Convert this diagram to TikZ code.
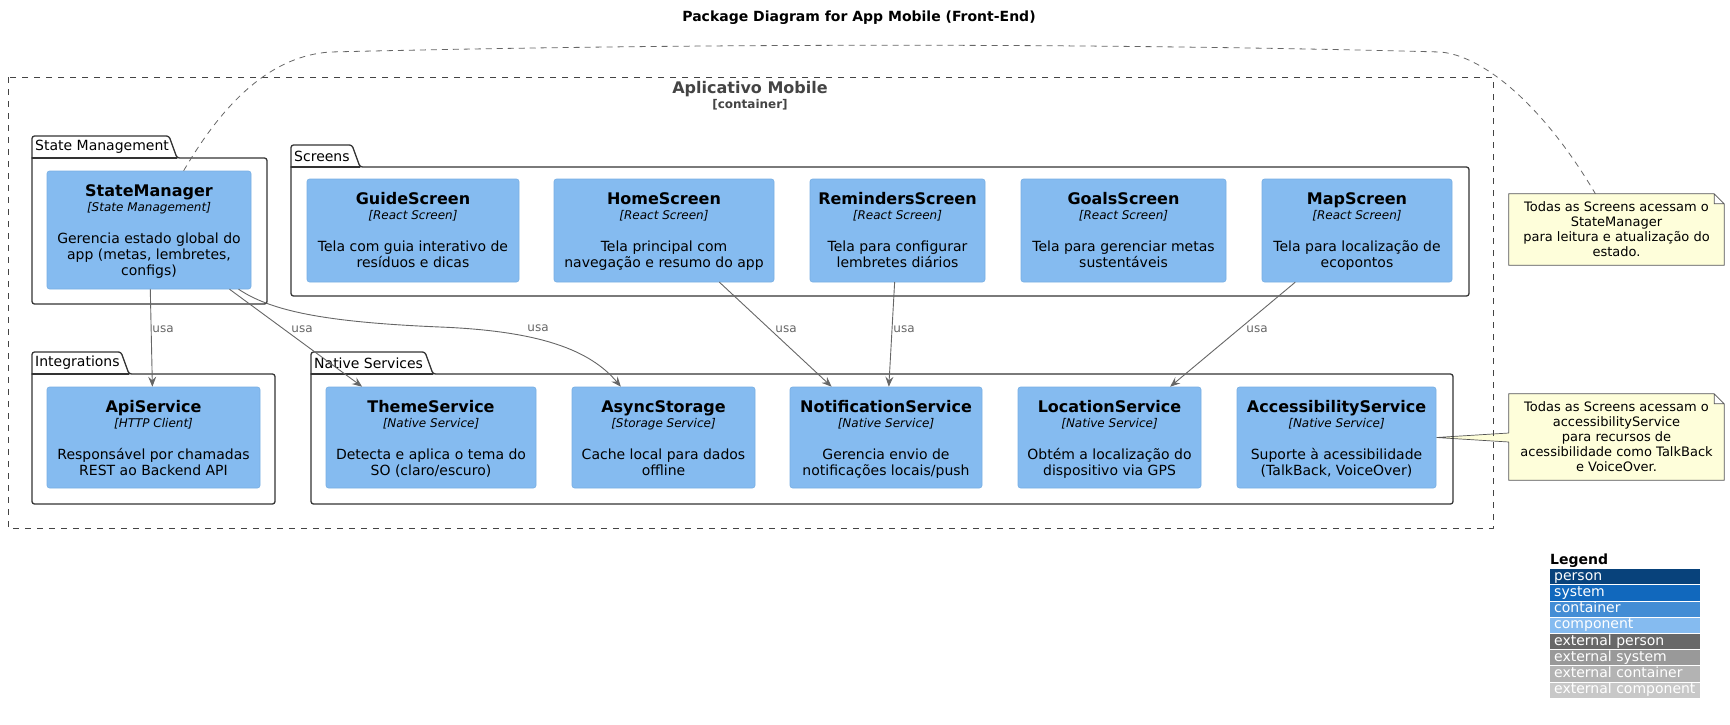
\documentclass[tikz,border=0pt]{standalone}
\usepackage{fontspec}
\setmainfont{DejaVu Sans}
\usetikzlibrary{calc,fit,arrows.meta}
\pgfdeclarelayer{bg}
\pgfsetlayers{bg,main}
\definecolor{compfill}{HTML}{85BBF0}
\definecolor{compline}{HTML}{78AEE2}
\definecolor{relgray}{HTML}{666666}
\definecolor{pkgline}{HTML}{333333}
\definecolor{contgray}{HTML}{444444}
\definecolor{notebg}{HTML}{FEFEDA}
\definecolor{noteline}{HTML}{555555}
\definecolor{lperson}{HTML}{08427B}
\definecolor{lsystem}{HTML}{1168BD}
\definecolor{lcontainer}{HTML}{438DD5}
\definecolor{lcomponent}{HTML}{85BBF0}
\definecolor{lextperson}{HTML}{686868}
\definecolor{lextsystem}{HTML}{999999}
\definecolor{lextcontainer}{HTML}{B3B3B3}
\definecolor{lextcomponent}{HTML}{C8C8C8}

\begin{document}
\begin{tikzpicture}[x=1pt,y=-1pt,line cap=round,line join=round,
  diagtitle/.style={font={\bfseries\fontsize{14}{17}\selectfont},inner sep=0pt},
  conttitle/.style={font={\bfseries\fontsize{16}{19}\selectfont},text=contgray,inner sep=0pt},
  conttype/.style={font={\bfseries\fontsize{12}{14}\selectfont},text=contgray,inner sep=0pt},
  cont/.style={draw=contgray,line width=1pt,dash pattern=on 6pt off 6pt,line cap=butt},
  pkg/.style={draw=pkgline,line width=1.3pt,rounded corners=2.5pt},
  plabel/.style={font={\fontsize{14}{16}\selectfont},anchor=west,inner sep=0pt},
  comp/.style={draw=compline,fill=compfill,line width=0.6pt,rounded corners=2.5pt,inner sep=0pt},
  ctitle/.style={font={\bfseries\fontsize{16}{19}\selectfont},anchor=base,inner sep=0pt},
  ctech/.style={font={\itshape\fontsize{12}{14}\selectfont},anchor=base,inner sep=0pt},
  cdesc/.style={font={\fontsize{14}{16.3}\selectfont},align=center,anchor=north,inner sep=0pt,execute at begin node=\strut},
  rel/.style={draw=relgray,line width=0.9pt,-{Stealth[length=10pt,width=8pt,inset=3.5pt]}},
  lbl/.style={font={\fontsize{12}{14}\selectfont},text=relgray,inner sep=0pt},
  notelink/.style={draw=relgray,line width=0.8pt,dash pattern=on 6pt off 5pt,line cap=butt},
  notetext/.style={font={\fontsize{13}{15}\selectfont},align=center,inner sep=0pt,minimum width=215pt},
  notebox/.style={fill=notebg,draw=noteline,line width=0.7pt},
  legbox/.style={anchor=north west,minimum width=150pt,minimum height=15.2pt,inner sep=0pt},
  legtext/.style={font={\fontsize{14}{16}\selectfont},text=white,anchor=west,inner sep=0pt,text height=10pt,text depth=3pt}]
  \useasboundingbox (0,0) rectangle (1730,724);

  \node[diagtitle] (title) at (859,18) {Package Diagram for App Mobile (Front-End)};

  \draw[cont] (8,77) rectangle (1493,528);
  \node[conttitle] (app) at (750,89) {Aplicativo Mobile};
  \node[conttype] (apptype) at (750,105) {[container]};

  \foreach \p/\xa/\ya/\xb/\yb/\tr/\lab in {stm/32/158/267/304/169/State Management,
      scr/291/167/1469/296/352/Screens, intg/32/374/275/504/121/Integrations,
      nat/311/374/1453/504/425/Native Services}
  {
    \draw[pkg] (\xa,{\ya-22}) -- (\tr,{\ya-22}) -- ({\tr+8},\ya) -- (\xb,\ya) -- (\xb,\yb) -- (\xa,\yb) -- cycle;
    \draw[pkg] (\xa,\ya) -- ({\tr+8},\ya);
    \node[plabel] (\p) at ({\xa+3},{\ya-11}) {\lab};
  }

  \foreach \n/\xa/\ya/\xb/\yb/\ti/\te/\de in {
      sm/47/171/251/289/StateManager/State Management/{Gerencia estado global do\\app (metas, lembretes,\\configs)},
      guide/307/179/519/282/GuideScreen/React Screen/{Tela com guia interativo de\\resíduos e dicas},
      home/554/179/774/282/HomeScreen/React Screen/{Tela principal com\\navegação e resumo do app},
      rem/810/179/985/282/RemindersScreen/React Screen/{Tela para configurar\\lembretes diários},
      goals/1021/179/1226/282/GoalsScreen/React Screen/{Tela para gerenciar metas\\sustentáveis},
      map/1262/179/1452/282/MapScreen/React Screen/{Tela para localização de\\ecopontos},
      api/47/387/260/488/ApiService/HTTP Client/{Responsável por chamadas\\REST ao Backend API},
      theme/326/387/536/488/ThemeService/Native Service/{Detecta e aplica o tema do\\SO (claro/escuro)},
      async/572/387/755/488/AsyncStorage/Storage Service/{Cache local para dados\\offline},
      notif/790/387/982/488/NotificationService/Native Service/{Gerencia envio de\\notificações locais/push},
      loc/1018/387/1201/488/LocationService/Native Service/{Obtém a localização do\\dispositivo via GPS},
      acc/1237/387/1436/488/AccessibilityService/Native Service/{Suporte à acessibilidade\\(TalkBack, VoiceOver)}}
  {
    \node[comp,fit={(\xa,\ya) (\xb,\yb)}] (\n) {};
    \node[ctitle] (\n-ti) at ($(\n.north)+(0,26)$) {\ti};
    \node[ctech] (\n-te) at ($(\n.north)+(0,40.5)$) {[\te]};
    \node[cdesc] (\n-de) at ($(\n.north)+(0,61.5)$) {\de};
  }

  \draw[rel] (sm) -- (api) node[lbl] (u1) at (163,329) {usa};
  \draw[rel] (sm) -- (theme) node[lbl] (u2) at (302,329) {usa};
  \draw[rel] (sm) .. controls (270,310) and (320,322) .. (440,327)
    .. controls (540,331) and (590,350) .. (async) node[lbl] (u3) at (538,328) {usa};
  \draw[rel] (home) -- (notif) node[lbl] (u4) at (786,329) {usa};
  \draw[rel] (rem) -- (notif) node[lbl] (u5) at (904,329) {usa};
  \draw[rel] (map) -- (loc) node[lbl] (u6) at (1257,329) {usa};

  \node[notetext,minimum height=71pt] (note1) at (1616.5,229.5)
    {Todas as Screens acessam o\\StateManager\\para leitura e atualização do\\estado.};
  \node[notetext,minimum height=86pt] (note2) at (1616.5,437)
    {Todas as Screens acessam o\\accessibilityService\\para recursos de\\acessibilidade como TalkBack\\e VoiceOver.};
  \begin{pgfonlayer}{bg}
    \foreach \nt in {note1,note2}
      \filldraw[notebox] (\nt.north west) -- ($(\nt.north east)+(-10,0)$) -- ($(\nt.north east)+(0,10)$)
        -- (\nt.south east) -- (\nt.south west) -- cycle
        ($(\nt.north east)+(-10,0)$) |- ($(\nt.north east)+(0,10)$);
    \fill[notebg] (acc.east) -- ($(note2.west)+(1,-4)$) -- ($(note2.west)+(1,5)$) -- cycle;
    \draw[noteline,line width=0.7pt] ($(note2.west)+(0,-4)$) -- (acc.east) -- ($(note2.west)+(0,5)$);
  \end{pgfonlayer}
  \draw[notelink] (sm) .. controls (225,100) and (272,56) .. (330,52)
    .. controls (700,43) and (1100,43) .. (1440,52)
    .. controls (1480,55) and (1540,100) .. (note1);

  \node[font={\bfseries\fontsize{14}{16}\selectfont},anchor=west,inner sep=0pt] (legend) at (1550,561) {Legend};
  \foreach \i/\t/\c in {0/person/lperson,1/system/lsystem,2/container/lcontainer,3/component/lcomponent,
      4/external person/lextperson,5/external system/lextsystem,6/external container/lextcontainer,
      7/external component/lextcomponent}
  {
    \node[legbox,fill=\c] (leg\i) at (1550,{569+16.2*\i}) {};
    \node[legtext] (leg\i-t) at ($(leg\i.west)+(4,0)$) {\t};
  }
\end{tikzpicture}
\end{document}
